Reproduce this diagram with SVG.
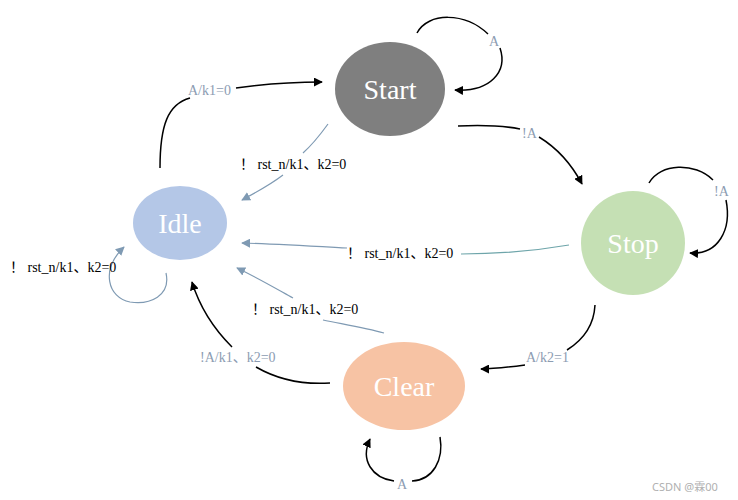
<svg xmlns="http://www.w3.org/2000/svg" width="738" height="500" viewBox="0 0 738 500">
<defs>
<marker id="ab" viewBox="0 0 10 10" refX="9" refY="5" markerWidth="9" markerHeight="9" markerUnits="userSpaceOnUse" orient="auto"><path d="M0,0 L10,5 L0,10 z" fill="#000"/></marker>
<marker id="ag" viewBox="0 0 10 10" refX="9" refY="5" markerWidth="9" markerHeight="9" markerUnits="userSpaceOnUse" orient="auto"><path d="M0,0 L10,5 L0,10 z" fill="#7f9ab3"/></marker>
<style>
.nt{font-family:"Liberation Serif",serif;font-size:28px;fill:#fff;text-anchor:middle;dominant-baseline:central}
.lb{font-family:"Liberation Serif","Noto Sans CJK SC",serif;font-size:14px;fill:#000}
.lg{font-family:"Liberation Serif","Noto Sans CJK SC",serif;font-size:14px;fill:#8c9cb2}
.eb{fill:none;stroke:#000;stroke-width:1.5}
.eg{fill:none;stroke:#7f9ab3;stroke-width:1.2}
</style>
</defs>
<rect width="738" height="500" fill="#fff"/>
<g id="connectors">
<path class="eb" d="M160,168 C160,125 168,104 190,98"/>
<path class="eb" d="M236,88 C265,84 295,82 322,82" marker-end="url(#ab)"/>
<path class="eb" d="M417,33 C428,12 465,12 488,34"/>
<path class="eb" d="M500,48 C508,72 490,92 455,90" marker-end="url(#ab)"/>
<path class="eg" d="M328,124 C320,135 312,145 303,153"/>
<path class="eg" d="M283,175 C270,185 255,193 242,200" marker-end="url(#ag)"/>
<path class="eb" d="M458,126 C480,125 505,126 520,129"/>
<path class="eb" d="M539,137 C557,148 572,165 582,184" marker-end="url(#ab)"/>
<path class="eb" d="M649,183 C660,163 695,162 713,180"/>
<path class="eb" d="M726,200 C732,230 718,255 690,253" marker-end="url(#ab)"/>
<path d="M569,245 C540,250 500,254 461,254" fill="none" stroke="#6ea5aa" stroke-width="1.2"/>
<path class="eg" d="M347,248 C310,246 275,244 242,243" marker-end="url(#ag)"/>
<path class="eg" d="M384,333 C365,328 342,324 323,320"/>
<path class="eg" d="M293,298 C275,288 258,278 237,268" marker-end="url(#ag)"/>
<path class="eb" d="M330,383 C300,385 275,378 256,367"/>
<path class="eb" d="M232,347 C215,330 200,308 192,282" marker-end="url(#ab)"/>
<path class="eb" d="M595,305 C594,325 583,340 567,350"/>
<path class="eb" d="M525,365 C510,367 495,369 481,369" marker-end="url(#ab)"/>
<path class="eb" d="M440,437 C444,460 433,480 412,481"/>
<path class="eb" d="M394,481 C372,478 360,460 370,439" marker-end="url(#ab)"/>
<path class="eg" d="M166,273 C171,296 150,305 130,302 C108,298 100,270 124,247" marker-end="url(#ag)"/>
</g>
<g id="start"><ellipse cx="390" cy="89" rx="55" ry="47" fill="#7f7f7f"/><text class="nt" x="390" y="89">Start</text></g>
<g id="idle"><ellipse cx="180" cy="223" rx="47" ry="37" fill="#b4c7e7"/><text class="nt" x="180" y="223">Idle</text></g>
<g id="stop"><ellipse cx="633" cy="243" rx="52" ry="52" fill="#c5e0b4"/><text class="nt" x="633" y="243">Stop</text></g>
<g id="clear"><ellipse cx="404" cy="386" rx="61" ry="44" fill="#f7c3a4"/><text class="nt" x="404" y="386">Clear</text></g>
<g id="labels">
<text class="lg" x="188" y="95">A/k1=0</text>
<text class="lg" x="489" y="46">A</text>
<text class="lb" x="240" y="169">！ rst_n/k1、k2=0</text>
<text class="lg" x="522" y="138">!A</text>
<text class="lg" x="714" y="196">!A</text>
<text class="lb" x="347" y="258">！ rst_n/k1、k2=0</text>
<text class="lb" x="252" y="314">！ rst_n/k1、k2=0</text>
<text class="lg" x="200" y="362">!A/k1、k2=0</text>
<text class="lg" x="526" y="362">A/k2=1</text>
<text class="lg" x="397" y="489">A</text>
<text class="lb" x="10" y="272">！ rst_n/k1、k2=0</text>
<text x="652" y="491" font-family="'Noto Sans','Noto Sans CJK SC',sans-serif" font-size="11" fill="#b0b0b0">CSDN @霖00</text>
</g>
</svg>
